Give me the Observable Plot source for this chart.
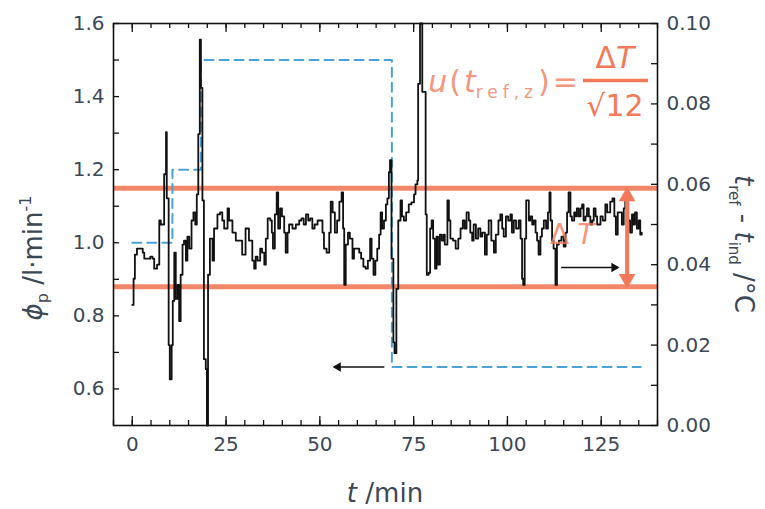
<!DOCTYPE html>
<html><head><meta charset="utf-8">
<script src="https://cdn.jsdelivr.net/npm/d3@7"></script>
<script src="https://cdn.jsdelivr.net/npm/@observablehq/plot@0.6"></script>
<style>
body{margin:0;background:#fff;}
#chart{width:765px;height:509px;}
</style></head><body><div id="chart"></div>
<script>
// ---- data ----
// black trace: t_ref - t_ind (°C, right axis) vs time (min)
const tMin = [0.0,0.35,0.7,1.25,2.3,2.8,3.2,4.1,4.8,5.4,5.85,6.6,7.2,7.6,8.5,9.0,9.2,9.7,10.0,10.5,10.8,11.2,11.6,12.1,12.5,12.9,13.4,13.8,14.3,14.7,15.2,15.8,16.3,16.8,17.2,17.6,18.0,18.3,18.7,19.1,19.6,19.9,20.2,20.7,21.4,21.8,22.7,23.4,24.0,24.5,25.4,25.8,26.7,27.6,28.5,29.3,30.2,31.1,32.0,32.5,32.9,33.4,34.1,34.6,35.2,35.6,36.1,36.8,37.2,37.5,38.0,38.5,38.9,39.4,39.9,40.5,40.9,41.4,41.8,42.7,43.6,44.5,45.1,45.7,46.3,46.9,47.4,48.0,48.6,49.4,50.3,50.7,51.1,51.8,52.5,52.9,53.4,54.0,54.6,55.2,55.8,56.2,56.5,56.9,57.5,58.0,58.7,59.1,59.8,60.5,61.0,61.6,62.2,62.8,63.4,63.8,64.3,64.8,65.3,65.8,66.2,66.6,67.1,67.6,68.0,68.4,68.7,69.1,69.6,69.9,70.4,70.9,71.5,71.9,72.4,73.0,73.7,74.4,75.1,75.5,76.0,76.2,76.7,77.2,77.3,77.9,78.2,78.5,79.0,79.4,79.8,80.2,80.7,81.1,81.5,82.0,82.5,83.0,83.3,84.0,84.4,84.8,85.5,86.2,86.9,87.5,88.1,88.6,89.1,89.7,90.1,90.6,91.0,91.6,92.2,92.8,93.3,94.0,94.5,95.0,95.7,96.4,96.9,97.6,98.1,98.6,99.0,99.6,100.2,100.8,101.2,101.7,102.3,103.0,103.5,103.9,104.2,104.6,105.0,105.7,106.1,106.6,107.0,107.5,107.9,108.3,108.8,109.2,109.7,110.3,110.8,111.2,111.5,111.9,112.3,112.8,113.2,113.7,114.4,115.0,115.5,115.9,116.3,116.8,117.2,117.8,118.1,118.5,119.0,119.5,119.9,120.3,120.8,121.2,121.7,122.1,122.6,123.0,123.5,123.9,124.3,124.8,125.4,126.1,126.6,127.4,128.0,128.5,128.9,129.4,130.0,130.5,131.0,131.4,132.2,132.7,133.2,133.6,134.0,134.5,135.0,135.4,135.8];
const dT = [0.030,0.0365,0.0425,0.044,0.044,0.043,0.0415,0.0415,0.042,0.0415,0.039,0.040,0.051,0.050,0.0625,0.073,0.0565,0.020,0.0115,0.020,0.031,0.043,0.0315,0.035,0.026,0.0375,0.045,0.046,0.041,0.047,0.044,0.051,0.053,0.050,0.0575,0.0725,0.096,0.084,0.056,0.0165,0.014,0.0,0.0375,0.0465,0.041,0.049,0.0525,0.053,0.051,0.049,0.054,0.051,0.048,0.046,0.046,0.0425,0.049,0.046,0.041,0.039,0.042,0.041,0.044,0.043,0.040,0.0465,0.0515,0.051,0.048,0.044,0.0525,0.058,0.049,0.054,0.052,0.048,0.043,0.048,0.050,0.049,0.050,0.051,0.0515,0.050,0.0525,0.051,0.0515,0.049,0.050,0.051,0.051,0.048,0.044,0.043,0.048,0.0557,0.053,0.048,0.051,0.0557,0.058,0.049,0.035,0.045,0.048,0.0465,0.0415,0.044,0.044,0.043,0.0415,0.0395,0.039,0.041,0.0465,0.0415,0.0375,0.041,0.044,0.0475,0.053,0.049,0.051,0.055,0.0565,0.063,0.066,0.0415,0.0207,0.018,0.034,0.051,0.056,0.052,0.051,0.053,0.055,0.0555,0.0575,0.060,0.061,0.085,0.100,0.100,0.083,0.083,0.0525,0.0375,0.038,0.049,0.051,0.0465,0.039,0.047,0.040,0.0475,0.046,0.0475,0.045,0.056,0.051,0.0465,0.046,0.044,0.0465,0.049,0.051,0.049,0.053,0.051,0.048,0.046,0.050,0.0465,0.049,0.047,0.048,0.0425,0.0475,0.051,0.046,0.043,0.0475,0.051,0.0525,0.049,0.047,0.052,0.051,0.0525,0.048,0.051,0.049,0.051,0.0465,0.0365,0.035,0.0465,0.056,0.051,0.052,0.050,0.051,0.048,0.046,0.0425,0.047,0.049,0.051,0.049,0.053,0.058,0.051,0.046,0.044,0.035,0.045,0.046,0.047,0.0445,0.048,0.053,0.058,0.052,0.051,0.053,0.052,0.054,0.052,0.054,0.055,0.051,0.052,0.054,0.052,0.050,0.051,0.054,0.052,0.050,0.050,0.052,0.051,0.055,0.053,0.0557,0.0565,0.052,0.0475,0.053,0.053,0.050,0.054,0.0565,0.051,0.048,0.0525,0.050,0.053,0.049,0.051,0.0475,0.048];
// blue dashed: flow rate phi_p (l/min, left axis)
const flowT = [0, 10.7, 18.3, 69.2, 135.5];
const flowV = [1.0, 1.2, 1.5, 0.66, 0.66];
// orange band (°C, right axis)
const bandLevels = [0.0345, 0.059];
// tick values
const xTicks = [0, 25, 50, 75, 100, 125];
const leftTicks = [0.6, 0.8, 1.0, 1.2, 1.4, 1.6];
const rightTicks = [0.00, 0.02, 0.04, 0.06, 0.08, 0.10];
// annotation arrows (black)
const arrowLeft = {t1: 67.2, t2: 53.8, phi: 0.66};
const arrowRight = {t1: 114.3, t2: 129.5, dT: 0.0393};
const bandArrowT = 131.9;

// ---- helpers ----
const W = 765, H = 509;
const mL = 113, mR = 108, mT = 23, mB = 84;
const pW = W - mL - mR, pH = H - mT - mB;
const toLeft = v => 0.5 + v * 11; // right axis (°C) -> left axis units
const black = tMin.map((t, i) => ({t, y: toLeft(dT[i])}));
const flow = flowT.map((t, i) => ({t, y: flowV[i]}));
const minorX = d3.range(-1, 29).map(i => i * 5);
const leftAll = d3.range(6, 17).map(i => i / 10);
const rightAll = d3.range(0, 11).map(i => toLeft(i / 100));
const ORANGE = "#f27a5a";
const TXT = "#3b4856";
const FONT = "DejaVu Sans, Liberation Sans, sans-serif";

const chart = Plot.plot({
  width: W, height: H,
  marginLeft: mL, marginRight: mR, marginTop: mT, marginBottom: mB,
  style: {fontFamily: FONT, fontSize: "20px", background: "#fff"},
  x: {domain: [-5, 140], axis: null},
  y: {domain: [0.5, 1.6], axis: null},
  marks: [
    Plot.ruleY(bandLevels.map(toLeft), {stroke: ORANGE, strokeWidth: 5, strokeOpacity: 0.9}),
    Plot.line(flow, {x: "t", y: "y", curve: "step-after", stroke: "#4aa3d8", strokeWidth: 2, strokeDasharray: "9,6"}),
    Plot.line(black, {x: "t", y: "y", curve: "step-after", stroke: "#111", strokeWidth: 1.8}),
    Plot.link([arrowLeft], {x1: "t1", x2: "t2", y1: "phi", y2: "phi", stroke: "#111", strokeWidth: 1.5}),
    Plot.dot([arrowLeft], {x: "t2", y: "phi", symbol: "triangle2", r: 4.5, fill: "#111", rotate: -90, dx: 4}),
    Plot.link([arrowRight], {x1: "t1", x2: "t2", y1: d => toLeft(d.dT), y2: d => toLeft(d.dT), stroke: "#111", strokeWidth: 1.5}),
    Plot.dot([arrowRight], {x: "t2", y: d => toLeft(d.dT), symbol: "triangle2", r: 4.5, fill: "#111", rotate: 90, dx: -4}),
    Plot.link([0], {x1: () => bandArrowT, x2: () => bandArrowT, y1: () => toLeft(bandLevels[0]), y2: () => toLeft(bandLevels[1]), stroke: ORANGE, strokeWidth: 4}),
    Plot.dot([0], {x: () => bandArrowT, y: () => toLeft(bandLevels[1]), symbol: "triangle2", r: 8, fill: ORANGE, dy: 8}),
    Plot.dot([0], {x: () => bandArrowT, y: () => toLeft(bandLevels[0]), symbol: "triangle2", r: 8, fill: ORANGE, rotate: 180, dy: -8}),
    Plot.tickY(leftAll, {y: d => d, stroke: "#111", strokeWidth: 1.3, insetRight: pW - 6}),
    Plot.tickY(rightAll, {y: d => d, stroke: "#111", strokeWidth: 1.3, insetLeft: pW - 6}),
    Plot.tickX(minorX, {x: d => d, stroke: "#111", strokeWidth: 1.3, insetTop: pH - 5}),
    Plot.tickX(xTicks, {x: d => d, stroke: "#111", strokeWidth: 1.3, insetTop: pH - 9}),
    Plot.tickX(minorX, {x: d => d, stroke: "#111", strokeWidth: 1.3, insetBottom: pH - 5}),
    Plot.tickX(xTicks, {x: d => d, stroke: "#111", strokeWidth: 1.3, insetBottom: pH - 9}),
    Plot.axisY(leftTicks, {anchor: "left", tickSize: 0, tickPadding: 9, label: null, fontSize: 20, color: TXT, tickFormat: d => d.toFixed(1)}),
    Plot.axisY(rightTicks.map(toLeft), {anchor: "right", tickSize: 0, tickPadding: 9, label: null, fontSize: 20, color: TXT, tickFormat: d => ((d - 0.5) / 11).toFixed(2)}),
    Plot.axisX(xTicks, {anchor: "bottom", tickSize: 0, tickPadding: 11, label: null, fontSize: 20, color: TXT}),
    Plot.frame({stroke: "#111", strokeWidth: 1.6})
  ]
});
document.getElementById("chart").appendChild(chart);

// ---- titles & annotations (positioned through the plot's scales) ----
const sx = chart.scale("x"), sy = chart.scale("y");
const svg = d3.select(chart);
const px = t => sx.apply(t), py = v => sy.apply(v);

const bt = svg.append("text").attr("x", mL + pW / 2).attr("y", H - 7)
  .attr("text-anchor", "middle").attr("font-family", FONT).attr("font-size", 26).attr("fill", TXT);
bt.append("tspan").attr("font-style", "italic").text("t");
bt.append("tspan").text(" /min");

const lt = svg.append("text").attr("transform", `translate(42,${mT + pH / 2 + 34}) rotate(-90)`)
  .attr("text-anchor", "middle").attr("font-family", FONT).attr("font-size", 26).attr("fill", TXT);
lt.append("tspan").attr("font-style", "italic").text("ϕ");
lt.append("tspan").attr("font-size", 16).attr("dy", 6).text("p");
lt.append("tspan").attr("dy", -6).text(" /l·min");
lt.append("tspan").attr("font-size", 16).attr("dy", -11).text("-1");

const rt = svg.append("text").attr("transform", `translate(${W - 30},${mT + pH / 2 + 20}) rotate(90)`)
  .attr("text-anchor", "middle").attr("font-family", FONT).attr("font-size", 26).attr("fill", TXT);
rt.append("tspan").attr("font-style", "italic").text("t");
rt.append("tspan").attr("font-size", 15).attr("dy", 6).text("ref");
rt.append("tspan").attr("dy", -6).text(" - ");
rt.append("tspan").attr("font-style", "italic").text("t");
rt.append("tspan").attr("font-size", 15).attr("dy", 6).text("ind");
rt.append("tspan").attr("dy", -6).text(" /°C");

// formula u(t) = ΔT/√12
const fx = px(79.0), fy = py(1.41);
const fm = svg.append("text").attr("x", fx).attr("y", fy).attr("text-anchor", "start").attr("font-family", FONT)
  .attr("font-size", 30).attr("fill", ORANGE).attr("fill-opacity", 0.8);
fm.append("tspan").attr("font-style", "italic").text("u");
fm.append("tspan").attr("dx", 2).text("(");
fm.append("tspan").attr("font-style", "italic").attr("dx", 3).text("t");
fm.append("tspan").attr("font-size", 17).attr("dy", 6).attr("letter-spacing", 5).text("ref,z");
fm.append("tspan").attr("dy", -6).text(")");
fm.append("tspan").attr("dx", 3).text("=");
const fracX = px(128.8);
svg.append("line").attr("x1", fracX - 32).attr("x2", fracX + 33).attr("y1", fy - 12).attr("y2", fy - 12)
  .attr("stroke", ORANGE).attr("stroke-width", 3.5);
const num = svg.append("text").attr("x", fracX).attr("y", fy - 24).attr("text-anchor", "middle")
  .attr("font-family", FONT).attr("font-size", 30).attr("fill", ORANGE);
num.append("tspan").text("Δ");
num.append("tspan").attr("font-style", "italic").text("T");
svg.append("text").attr("x", fracX).attr("y", fy + 24).attr("text-anchor", "middle")
  .attr("font-family", FONT).attr("font-size", 30).attr("fill", ORANGE).text("√12");

// ΔT label on band
const dl = svg.append("text").attr("x", px(111.5)).attr("y", py(toLeft(0.045))).attr("text-anchor", "start")
  .attr("font-family", FONT).attr("font-size", 28).attr("fill", ORANGE).attr("fill-opacity", 0.8);
dl.append("tspan").text("Δ");
dl.append("tspan").attr("font-style", "italic").attr("dx", 8).text("T");
</script>
</body></html>
